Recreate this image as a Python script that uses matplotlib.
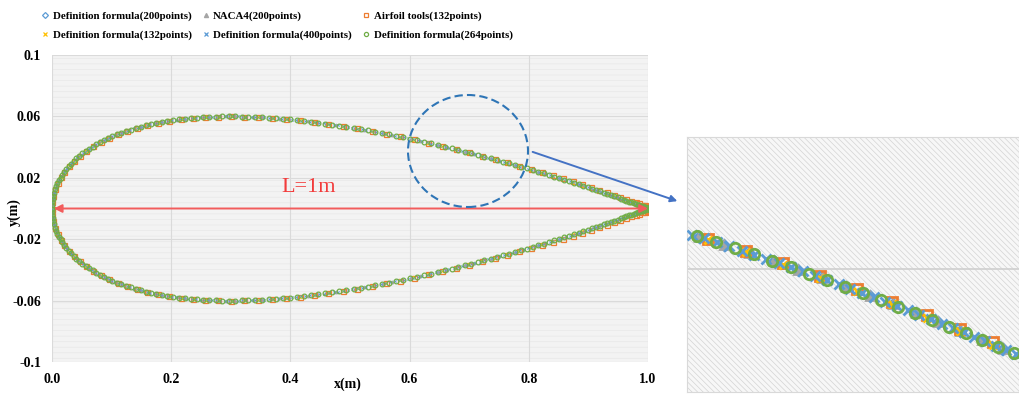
import numpy as np
import matplotlib
matplotlib.use("Agg")
import matplotlib.pyplot as plt
from matplotlib.patches import Rectangle, Ellipse, FancyArrowPatch

# ---------------- data ----------------
series_names = ["Definition formula(200points)", "NACA4(200points)", "Airfoil tools(132points)",
                "Definition formula(132points)", "Definition formula(400points)", "Definition formula(264points)"]
series_points = [200, 200, 132, 132, 400, 264]
# NACA 0012 thickness coefficients (a0..a4); open trailing edge for Airfoil tools data
thickness = 0.12
coef_closed = [0.2969, -0.1260, -0.3516, 0.2843, -0.1036]
coef_open = [0.2969, -0.1260, -0.3516, 0.2843, -0.1015]
series_coef = [coef_closed, coef_closed, coef_open, coef_closed, coef_closed, coef_closed]

x_ticks = [0.0, 0.2, 0.4, 0.6, 0.8, 1.0]
x_ticklabels = ["0.0", "0.2", "0.4", "0.6", "0.8", "1.0"]
y_ticks = [-0.1, -0.06, -0.02, 0.02, 0.06, 0.1]
y_ticklabels = ["-0.1", "-0.06", "-0.02", "0.02", "0.06", "0.1"]
chord_label = "L=1m"

# ---------------- styles ----------------
colors = ["#5b9bd5", "#a5a5a5", "#ed7d31", "#ffc000", "#5b9bd5", "#70ad47"]
markers = ["D", "^", "s", "x", "x", "o"]
filled = [False, True, False, True, True, False]
ms_main = [1.4, 2.0, 3.6, 2.0, 1.6, 3.4]
mew_main = [0.6, 0.6, 0.9, 0.7, 0.6, 0.9]
ms_inset = [5, 6, 7.5, 6, 7.5, 7.5]


def airfoil(n, coef):
    m = n // 2
    beta = np.linspace(0, np.pi, m)
    x = 0.5 * (1 - np.cos(beta))
    yt = 5 * thickness * (coef[0] * np.sqrt(x) + coef[1] * x + coef[2] * x**2 + coef[3] * x**3 + coef[4] * x**4)
    xs = np.concatenate([x[::-1], x])
    ys = np.concatenate([yt[::-1], -yt])
    return xs, ys


plt.rcParams['hatch.linewidth'] = 0.5
serif = ["Liberation Serif", "DejaVu Serif"]

fig = plt.figure(figsize=(10.19, 3.94), dpi=100)
W, H = 1019, 394


def pix_axes(l, t, r, b):
    return fig.add_axes([l / W, 1 - b / H, (r - l) / W, (b - t) / H])


ax = pix_axes(52, 55, 648, 362)
ax.set_facecolor("#f3f3f3")
ax.add_patch(Rectangle((0, 0), 1, 1, transform=ax.transAxes, facecolor="none",
                       edgecolor="#e8e8e8", hatch="---", lw=0, zorder=0))
ax.set_xlim(0, 1.0)
ax.set_ylim(-0.1, 0.1)
ax.set_xticks(x_ticks)
ax.set_xticklabels(x_ticklabels)
ax.set_yticks(y_ticks)
ax.set_yticklabels(y_ticklabels)
for s in ax.spines.values():
    s.set_visible(False)
ax.grid(True, color="#dadada", lw=0.8, zorder=0.5)
ax.tick_params(length=0, pad=8)
for lab in ax.get_xticklabels() + ax.get_yticklabels():
    lab.set_family(serif)
    lab.set_fontweight("bold")
    lab.set_fontsize(10)
ax.set_xlabel("x(m)", family=serif, fontweight="bold", fontsize=10, va="center")
ax.xaxis.set_label_coords((348 - 52) / 596, -(384 - 362) / 307)
ax.set_ylabel("y(m)", family=serif, fontweight="bold", fontsize=10, va="center")
ax.yaxis.set_label_coords(-(52 - 14) / 596, (362 - 212) / 307)

handles = []
for name, n, coef, c, mk, f, ms, mw in zip(series_names, series_points, series_coef, colors, markers,
                                           filled, ms_main, mew_main):
    xs, ys = airfoil(n, coef)
    h, = ax.plot(xs, ys, ls="none", marker=mk, ms=ms, mec=c,
                 mfc=(c if f else "none"), mew=mw, label=name, zorder=3)
    handles.append(h)

# chord arrow
ax.annotate("", xy=(0.003, 0.0), xytext=(1.0, 0.0),
            arrowprops=dict(arrowstyle="<|-|>", color="#f25c5c", lw=1.4, mutation_scale=12,
                            shrinkA=0, shrinkB=0), zorder=4)
ax.text(0.43, 0.0135, chord_label, color="#f23b3b", fontsize=16, family=serif, ha="center", va="center")

# legend (row-wise order as in the reference)
order = [0, 3, 1, 4, 2, 5]
legend_handles = []
for i in order:
    h = handles[i]
    lh, = ax.plot([], [], ls="none", marker=h.get_marker(), ms=3, mec=h.get_markeredgecolor(),
                  mfc=h.get_markerfacecolor(), mew=0.9, label=h.get_label())
    legend_handles.append(lh)
leg = fig.legend(handles=legend_handles, loc="upper left", bbox_to_anchor=(32 / W, 1 - 1 / H),
                 ncol=3, frameon=False, prop=dict(family=serif, weight="bold", size=7.8),
                 handlelength=0.6, handletextpad=0.4, columnspacing=1.0,
                 labelspacing=0.85)

# inset
axi = pix_axes(687, 137, 1019, 392)
axi.set_facecolor("#f7f7f7")
axi.add_patch(Rectangle((0, 0), 1, 1, transform=axi.transAxes, facecolor="none",
                        edgecolor="#d4d4d4", hatch="\\\\\\\\\\\\", lw=0, zorder=0))
axi.set_xlim(0.595, 0.80)
axi.set_ylim(0.0197, 0.0617)
axi.set_xticks([])
axi.set_yticks([0.04])
axi.yaxis.grid(True, color="#cfcfcf", lw=1.2)
axi.tick_params(length=0, labelleft=False)
for s in axi.spines.values():
    s.set_color("#d9d9d9")
for n, coef, c, mk, f, ms in zip(series_points, series_coef, colors, markers, filled, ms_inset):
    xs, ys = airfoil(n, coef)
    axi.plot(xs, ys, ls="none", marker=mk, ms=ms, mec=c, mfc=(c if f else "none"),
             mew=2.0, zorder=3, clip_on=True)

# magnifier circle and connector arrow (figure pixel coords)
def fx(px):
    return px / W


def fy(py):
    return 1 - py / H


circ = Ellipse((fx(468), fy(151)), 120 / W, 112 / H, transform=fig.transFigure, fill=False,
               ec="#2e75b6", lw=1.5, ls=(0, (4, 2)))
fig.add_artist(circ)
arr = FancyArrowPatch((fx(530), fy(151)), (fx(680), fy(202)), transform=fig.transFigure,
                      arrowstyle="-|>", mutation_scale=10, color="#4472c4", lw=1.4)
fig.add_artist(arr)

fig.savefig("out.png", dpi=100, facecolor="white")
